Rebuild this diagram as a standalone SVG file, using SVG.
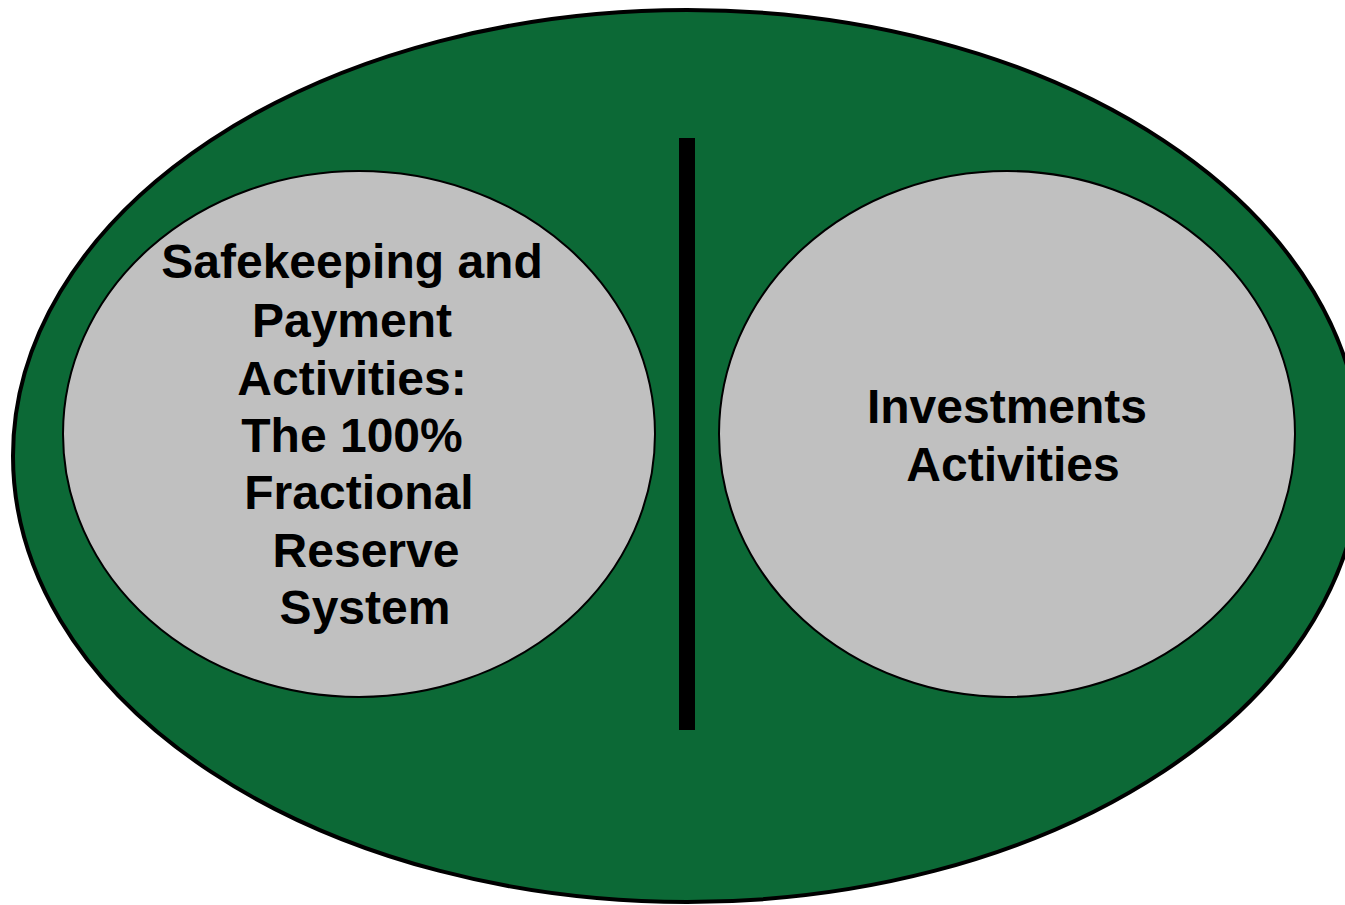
<svg xmlns="http://www.w3.org/2000/svg" width="1345" height="905" viewBox="0 0 1345 905">
<style>
.lbl{font-family:"Liberation Sans",Arial,sans-serif;font-weight:bold;font-size:48px;fill:#000;text-anchor:middle}
.inner{fill:#C0C0C0;stroke:#000;stroke-width:2}
</style>
<rect width="1345" height="905" fill="#fff"/>
<g id="outer">
<ellipse cx="687" cy="456" rx="674" ry="446" fill="#0C6936" stroke="#000" stroke-width="4"/>
</g>
<g id="divider">
<rect x="679" y="138" width="16" height="592" fill="#000"/>
</g>
<g id="left">
<ellipse class="inner" cx="359" cy="434" rx="296" ry="263"/>
<text class="lbl"><tspan x="352" y="278">Safekeeping and</tspan><tspan x="352" y="337">Payment</tspan><tspan x="352" y="395">Activities:</tspan><tspan x="352" y="452">The 100%</tspan><tspan x="359" y="509">Fractional</tspan><tspan x="366" y="567">Reserve</tspan><tspan x="365" y="624">System</tspan></text>
</g>
<g id="right">
<ellipse class="inner" cx="1007" cy="434" rx="288" ry="263"/>
<text class="lbl"><tspan x="1007" y="423">Investments</tspan><tspan x="1013" y="481">Activities</tspan></text>
</g>
<g id="connectors"/>
</svg>
